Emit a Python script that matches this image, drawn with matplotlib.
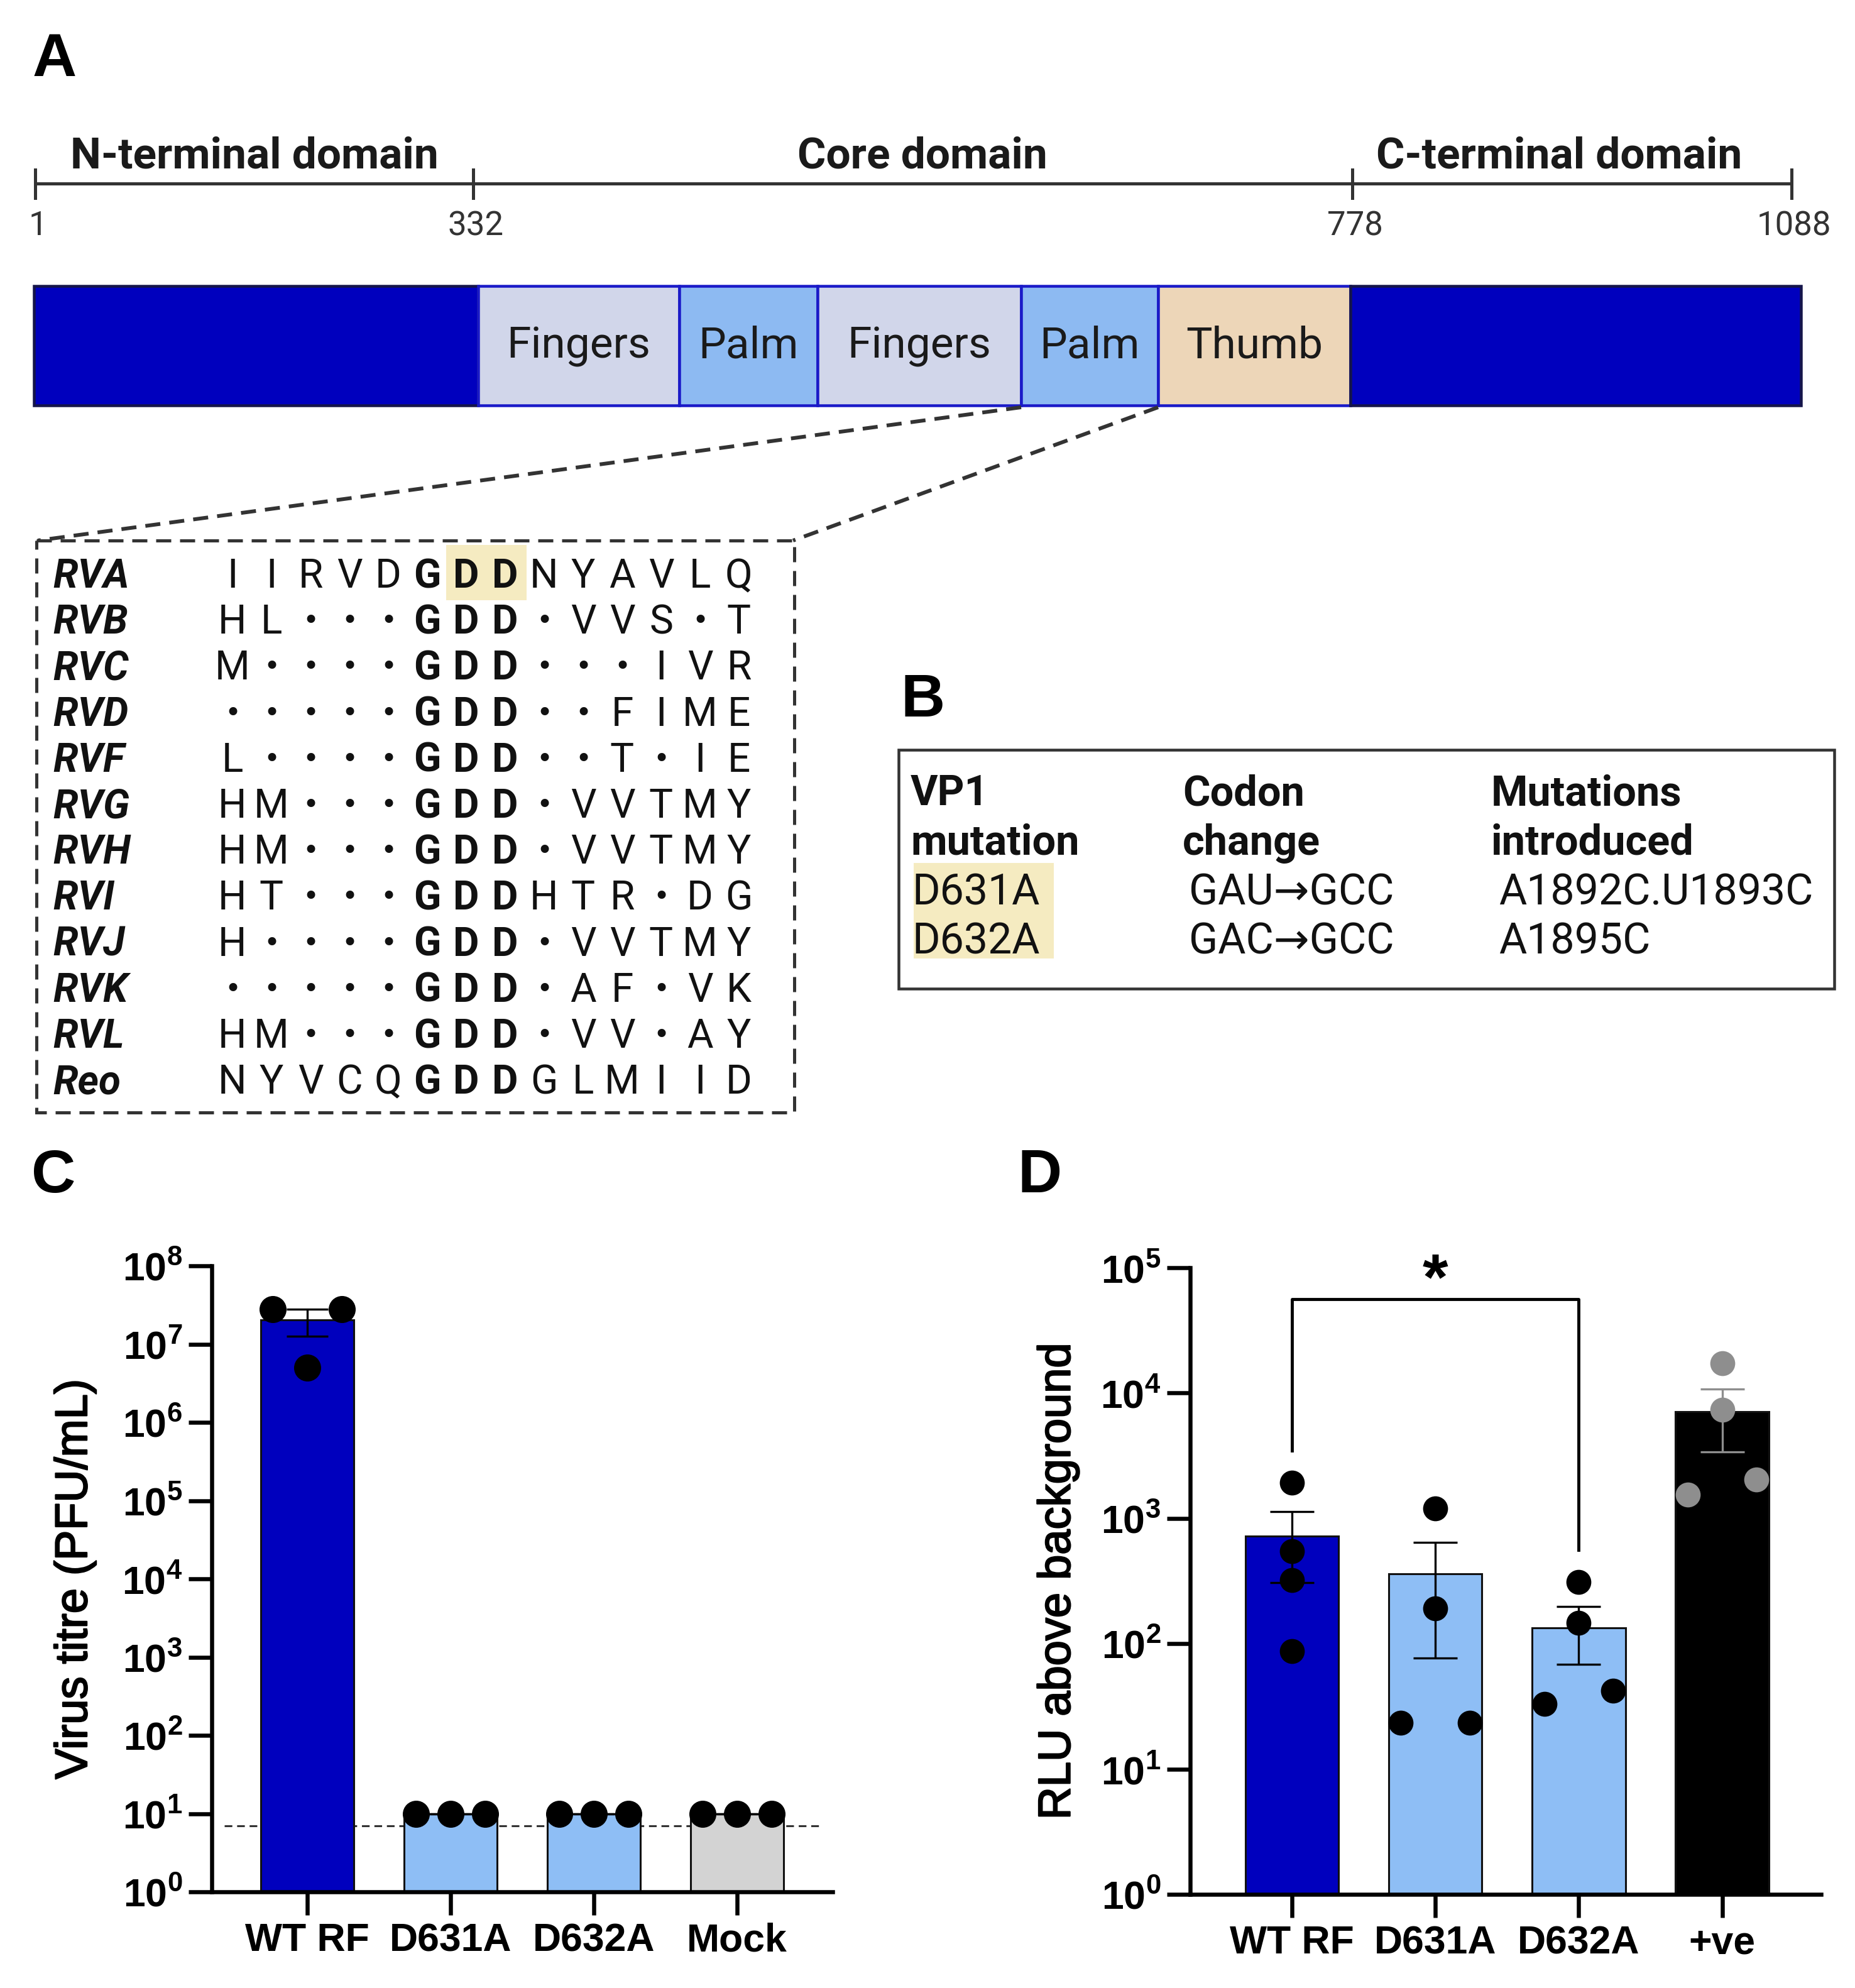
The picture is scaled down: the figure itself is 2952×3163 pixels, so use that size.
import numpy as np
import matplotlib
matplotlib.use("Agg")
import matplotlib.pyplot as plt
from matplotlib.patches import Rectangle
from matplotlib.ticker import NullLocator
import matplotlib.patheffects as pe

W, H = 2952, 3163
DPI = 100
PT = 72.0 / DPI  # pixel -> point

plt.rcParams['mathtext.fontset'] = 'custom'
plt.rcParams['mathtext.bf'] = 'Liberation Sans:bold'
plt.rcParams['mathtext.rm'] = 'Liberation Sans'
plt.rcParams['mathtext.it'] = 'Liberation Sans:italic'

# ---------------- data ----------------
panel_letters = ["A", "B", "C", "D"]

domain_names = ["N-terminal domain", "Core domain", "C-terminal domain"]
domain_ticks = ["1", "332", "778", "1088"]
subdomain_labels = ["", "Fingers", "Palm", "Fingers", "Palm", "Thumb", ""]

align_names = ["RVA", "RVB", "RVC", "RVD", "RVF", "RVG", "RVH", "RVI",
               "RVJ", "RVK", "RVL", "Reo"]
align_seqs = ["IIRVDGDDNYAVLQ",
              "HL...GDD.VVS.T",
              "M....GDD...IVR",
              ".....GDD..FIME",
              "L....GDD..T.IE",
              "HM...GDD.VVTMY",
              "HM...GDD.VVTMY",
              "HT...GDDHTR.DG",
              "H....GDD.VVTMY",
              ".....GDD.AF.VK",
              "HM...GDD.VV.AY",
              "NYVCQGDDGLMIID"]
motif_cols = [5, 6, 7]        # GDD (bold)
highlight_cols = [6, 7]       # DD highlighted in RVA

b_headers = [["VP1", "mutation"], ["Codon", "change"], ["Mutations", "introduced"]]
b_mutation = ["D631A", "D632A"]
b_codon = ["GAU\u2192GCC", "GAC\u2192GCC"]
b_introduced = ["A1892C.U1893C", "A1895C"]

c_groups = ["WT RF", "D631A", "D632A", "Mock"]
c_points = [[2.8e7, 5.0e6, 2.8e7],
            [10, 10, 10],
            [10, 10, 10],
            [10, 10, 10]]
c_lod = 7
c_ylabel = "Virus titre (PFU/mL)"

d_groups = ["WT RF", "D631A", "D632A", "+ve"]
d_points = [[1930, 548, 320, 87],
            [1200, 191, 23.4, 23.4],
            [311, 147, 33, 42],
            [17300, 7380, 1550, 2040]]
d_sig_pair = (0, 2)
d_sig_label = "*"
d_bracket_level = 5.6e4
d_ylabel = "RLU above background"

# ---------------- layout / style ----------------
DARK = '#0000BE'
LIGHT = '#8EBEF5'
GREY = '#D3D3D3'
FING = '#D1D6EA'
PALM = '#8DBAF2'
THUMB = '#EDD6B8'
HIGHLIGHT = '#F5EBC1'

SANS_A = ['Roboto', 'DejaVu Sans']
SANS_G = ['Liberation Sans', 'DejaVu Sans']

fig = plt.figure(figsize=(W / DPI, H / DPI), dpi=DPI)
ov = fig.add_axes([0, 0, 1, 1])
ov.set_xlim(0, W)
ov.set_ylim(H, 0)
ov.axis('off')
ov.set_zorder(0)


def add_axes_px(l, t, r, b):
    return fig.add_axes([l / W, 1 - b / H, (r - l) / W, (b - t) / H])


# panel letters
letter_pos = [(52, 121), (1433, 1140), (50, 1897), (1620, 1897)]
for lab, (x, y) in zip(panel_letters, letter_pos):
    ov.text(x, y, lab, fontsize=70, fontweight='bold', family=SANS_G,
            ha='left', va='baseline', color='black')

# ---------- Panel A: domain ruler ----------
tick_px = [56, 753, 2152, 2851]
line_y = 292
ov.plot([tick_px[0], tick_px[-1]], [line_y, line_y], color='#333333',
        lw=5 * PT, solid_capstyle='butt')
for x, lab in zip(tick_px, domain_ticks):
    ov.plot([x, x], [270, 315], color='#333333', lw=5 * PT)
    ov.text(x + 4, 360, lab, ha='center', va='center', fontsize=38,
            family=SANS_A, color='#333333')
for i, name in enumerate(domain_names):
    cx = (tick_px[i] + tick_px[i + 1]) / 2 + [0, 15, -20][i]
    ov.text(cx, 268, name, ha='center', va='baseline', fontsize=50,
            fontweight='bold', family=SANS_A, color='#1a1a1a')

# ---------- Panel A: domain bar ----------
seg_px = [54, 761, 1081, 1301, 1625, 1843, 2149, 2866]
seg_colors = [DARK, FING, PALM, FING, PALM, THUMB, DARK]
bar_top, bar_bot = 455, 645
for i, lab in enumerate(subdomain_labels):
    x0, x1 = seg_px[i], seg_px[i + 1]
    ec = '#15154A' if seg_colors[i] == DARK else '#1A1AC8'
    ov.add_patch(Rectangle((x0, bar_top), x1 - x0, bar_bot - bar_top,
                           facecolor=seg_colors[i], edgecolor=ec,
                           lw=4.5 * PT, zorder=2))
    if lab:
        ov.text((x0 + x1) / 2, 569, lab, ha='center', va='baseline',
                fontsize=50, family=SANS_A, color='#1a1a1a', zorder=3)

# connector dashed lines
box_l, box_r, box_t, box_b = 58, 1264, 860, 1770
ov.plot([seg_px[4], box_l + 2], [bar_bot + 3, box_t], color='#333333',
        lw=6 * PT, ls=(0, (4, 2.4)))
ov.plot([seg_px[5], box_r - 2], [bar_bot + 3, box_t], color='#333333',
        lw=6 * PT, ls=(0, (4, 2.4)))

# alignment box
ov.add_patch(Rectangle((box_l, box_t), box_r - box_l, box_b - box_t,
                       facecolor='none', edgecolor='#333333', lw=5 * PT,
                       ls=(0, (4.8, 2.8)), zorder=2))

row0, drow = 912, 73.2
col0, dcol = 370, 62.0
# highlight behind DD of RVA
ov.add_patch(Rectangle((col0 + dcol * highlight_cols[0] - 32, row0 - 45),
                       dcol * (len(highlight_cols) - 1) + 64 + 2, 88,
                       facecolor=HIGHLIGHT, edgecolor='none', zorder=1))
for r, (name, seq) in enumerate(zip(align_names, align_seqs)):
    yc = row0 + r * drow
    ov.text(84, yc + 23, name, ha='left', va='baseline', fontsize=46,
            fontweight='bold', fontstyle='italic', family=SANS_A,
            color='#111111', zorder=3)
    for c, ch in enumerate(seq):
        x = col0 + c * dcol
        if ch == '.':
            ov.text(x, yc + 16, '\u2022', ha='center', va='baseline',
                    fontsize=32, family=['DejaVu Sans'], color='#111111',
                    zorder=3)
        else:
            ov.text(x, yc + 23, ch, ha='center', va='baseline', fontsize=46,
                    family=SANS_A, color='#111111', zorder=3,
                    fontweight='bold' if c in motif_cols else 'normal')

# ---------- Panel B: table ----------
ov.add_patch(Rectangle((1430, 1193), 2919 - 1430, 1573 - 1193,
                       facecolor='none', edgecolor='#333333', lw=4.5 * PT,
                       zorder=2))
ov.add_patch(Rectangle((1454, 1373), 1677 - 1454, 1525 - 1373,
                       facecolor=HIGHLIGHT, edgecolor='none', zorder=1))
hdr_x = [1449, 1882, 2373]
dat_x = [1451, 1892, 2385]
hdr_y = [1281, 1360]
dat_y = [1439, 1518]
for j, lines in enumerate(b_headers):
    for k, t in enumerate(lines):
        ov.text(hdr_x[j], hdr_y[k], t, ha='left', va='baseline', fontsize=48,
                fontweight='bold', family=SANS_A, color='#111111', zorder=3)
for j, col in enumerate([b_mutation, b_codon, b_introduced]):
    for k, t in enumerate(col):
        ov.text(dat_x[j], dat_y[k], t, ha='left', va='baseline', fontsize=49,
                family=SANS_A, color='#111111', zorder=3)


# ---------- bar chart helper ----------
def style_axes(ax, groups, ymax_exp, ylabel, ylabel_x):
    ax.set_yscale('log')
    ax.set_ylim(1, 10 ** ymax_exp)
    ax.patch.set_alpha(0)
    for s in ['top', 'right']:
        ax.spines[s].set_visible(False)
    for s in ['left', 'bottom']:
        ax.spines[s].set_linewidth(6.5 * PT)
    ax.set_yticks([10 ** k for k in range(ymax_exp + 1)])
    ax.set_yticklabels([r'$\mathbf{10^{%d}}$' % k for k in range(ymax_exp + 1)],
                       fontsize=45)
    ax.yaxis.set_minor_locator(NullLocator())
    ax.set_xticks(range(len(groups)))
    ax.set_xticklabels(groups, fontsize=45, fontweight='bold', family=SANS_G)
    ax.tick_params(axis='both', length=37 * PT, width=6.5 * PT, color='black')
    ax.tick_params(axis='y', pad=7)
    ax.tick_params(axis='x', pad=8)
    lab = ax.set_ylabel(ylabel, fontsize=52, family=SANS_G, va='center')
    lab.set_path_effects([pe.withStroke(linewidth=1.6, foreground='black')])
    ax.yaxis.set_label_coords(ylabel_x, 0.5)


marker_s = (31) ** 2
bar_w = 0.65

# ---------- Panel C ----------
axC = add_axes_px(337, 2014, 1325, 3010)
axC.set_zorder(1)
c_colors = [DARK, LIGHT, LIGHT, GREY]
c_jitter = [[-0.24, 0.0, 0.24]] * 4
xs = np.arange(len(c_groups))
c_mean = [np.mean(p) for p in c_points]
c_sem = [np.std(p, ddof=1) / np.sqrt(len(p)) for p in c_points]
axC.set_yscale('log')
axC.axhline(c_lod, xmin=0.02, xmax=0.985, color='#333333', lw=2.2,
            ls=(0, (4, 2.5)), zorder=1)
axC.bar(xs, c_mean, width=bar_w, color=c_colors, edgecolor='#111111',
        linewidth=2.2, zorder=2)
for i in xs:
    axC.errorbar(i, c_mean[i], yerr=c_sem[i], fmt='none', ecolor='black',
                 elinewidth=2.4, capsize=24, capthick=2.4, zorder=3)
    axC.scatter(i + np.array(c_jitter[i]), c_points[i], s=marker_s,
                color='black', linewidths=0, zorder=4, clip_on=False)
axC.set_xlim(-0.667, len(c_groups) - 0.333)
style_axes(axC, c_groups, 8, c_ylabel, -0.22)

# ---------- Panel D ----------
axD = add_axes_px(1894, 2017, 2898, 3014)
axD.set_zorder(1)
d_colors = [DARK, LIGHT, LIGHT, 'black']
d_pt_colors = ['black', 'black', 'black', '#8E8E8E']
d_jitter = [[0, 0, 0, 0], [0, 0, -0.24, 0.24], [0, 0, -0.24, 0.24],
            [0, 0, -0.24, 0.24]]
xs = np.arange(len(d_groups))
d_mean = [np.mean(p) for p in d_points]
d_sem = [np.std(p, ddof=1) / np.sqrt(len(p)) for p in d_points]
axD.set_yscale('log')
axD.bar(xs, d_mean, width=bar_w, color=d_colors, edgecolor='#111111',
        linewidth=2.2, zorder=2)
for i in xs:
    axD.errorbar(i, d_mean[i], yerr=d_sem[i], fmt='none',
                 ecolor=d_pt_colors[i], elinewidth=2.4, capsize=25,
                 capthick=2.4, zorder=3)
    axD.scatter(i + np.array(d_jitter[i]), d_points[i], s=marker_s * 0.85,
                color=d_pt_colors[i], linewidths=0, zorder=4, clip_on=False)
i0, i1 = d_sig_pair
y0 = max(d_points[i0]) * 1.8
y1 = max(d_points[i1]) * 1.8
axD.plot([i0, i0, i1, i1], [y0, d_bracket_level, d_bracket_level, y1],
         color='black', lw=3.5, clip_on=False, zorder=5)
axD.text((i0 + i1) / 2, d_bracket_level, d_sig_label, ha='center',
         va='baseline', fontsize=75, fontweight='bold', family=SANS_G,
         clip_on=False, zorder=5)
axD.set_xlim(-0.71, len(d_groups) - 0.31)
style_axes(axD, d_groups, 5, d_ylabel, -0.209)

fig.savefig('out.png', dpi=DPI, facecolor='white')
